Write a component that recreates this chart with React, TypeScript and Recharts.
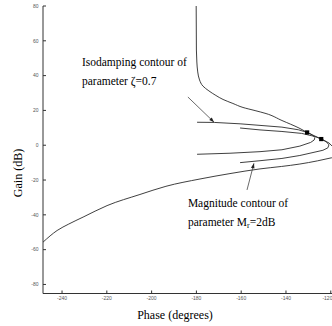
import React from 'react';
import { ComposedChart, Line, Scatter, XAxis, YAxis, ReferenceDot } from 'recharts';

// ---- data (phase in degrees, gain in dB) ----
const phaseTicks = [-240, -220, -200, -180, -160, -140, -120];
const gainTicks = [-80, -60, -40, -20, 0, 20, 40, 60, 80];

// upper branch of the open-loop Nichols curve (sorted by gain, ascending)
const upperPhase = [-120.8, -124.3, -130.6, -134.2, -141.8, -148.9, -153.8, -159.2, -163.7, -168.1, -171.3, -174.4, -177.1, -178.6, -179.4, -179.8, -180.0, -180.1];
const upperGain = [1.3, 3.6, 7.4, 9.9, 14.2, 18.2, 19.9, 21.7, 24.0, 26.3, 28.6, 31.2, 34.0, 37.5, 42.1, 47.8, 54.7, 80];

// turn-around beyond the right edge (clipped)
const loopPhase = [-120.8, -118.6, -117.8, -118.4, -119.6];
const loopGain = [1.3, -1.5, -4, -6, -7.2];

// lower branch (sorted by phase, ascending)
const lowerPhase = [-248.5, -242.2, -237, -230.6, -219.9, -205.2, -193.6, -178.4, -165, -151.6, -142, -133.8, -126, -119.6];
const lowerGain = [-55.7, -49, -45.3, -41.3, -34.7, -28.3, -23.6, -19.4, -16.3, -13.6, -12.2, -10.8, -9, -7.2];

const isoPhase = [-179.7, -172, -160.5, -151.6, -141.8, -134.5, -130.6, -128.3, -127.1, -127.4, -129, -133.8, -141.8, -151.6, -165, -179.7];
const isoGain = [13.2, 13.1, 12.3, 11.4, 10.4, 8.9, 7.4, 6.0, 4.4, 3.0, 1.6, -0.5, -2.6, -3.7, -4.6, -5.2];

const magPhase = [-160.5, -151.6, -141.8, -133, -127, -124.3, -122, -120.8, -121.3, -123.5, -133.8, -141.8, -151.6, -160.5];
const magGain = [9.9, 8.8, 7.9, 6.8, 5.0, 3.6, 2.0, 0.2, -1.5, -2.9, -5.9, -7.6, -8.9, -10.0];

const markerPhase = [-130.6, -124.3];
const markerGain = [7.4, 3.6];

const isoArrowPhase = [-183.8, -172.1];
const isoArrowGain = [27.7, 13.2];
const magArrowPhase = [-157.4, -154.3];
const magArrowGain = [-25.7, -10.4];

const isoLabelLines = ['Isodamping contour of', 'parameter \u03B6=0.7'];
const isoLabelAt = { phase: -231.1, gain: 45.5 };
const magLabelLines = ['Magnitude contour of', 'parameter M'];
const magLabelAt = { phase: -183.8, gain: -35.3 };

const xDomain: [number, number] = [-248.5, -119.45];
const yDomain: [number, number] = [-85.2, 80];

const zip = (p: number[], g: number[]) => p.map((phase, i) => ({ phase, gain: g[i] }));

const upperData = zip(upperPhase, upperGain);
const loopData = zip(loopPhase, loopGain);
const lowerData = zip(lowerPhase, lowerGain);
const isoData = zip(isoPhase, isoGain);
const magData = zip(magPhase, magGain);
const markerData = zip(markerPhase, markerGain);
const isoArrow = zip(isoArrowPhase, isoArrowGain);
const magArrow = zip(magArrowPhase, magArrowGain);

const LINE = '#2a2a2a';
const AXIS = '#333';
const SERIF = 'Liberation Serif, Times New Roman, DejaVu Serif, serif';
const serifStyle = { fontFamily: SERIF };

const ArrowHead = (props: any) => {
  const { cx, cy, index, points } = props;
  if (index !== 1 || !points || points.length < 2) return <g key={`ah-${index}`} />;
  const p0 = points[0];
  const ang = Math.atan2(cy - p0.y, cx - p0.x);
  const L = 5;
  const W = 1.8;
  const bx = cx - L * Math.cos(ang);
  const by = cy - L * Math.sin(ang);
  const px = -Math.sin(ang) * W;
  const py = Math.cos(ang) * W;
  return (
    <polygon
      key={`ah-${index}`}
      points={`${cx},${cy} ${bx + px},${by + py} ${bx - px},${by - py}`}
      fill="#222"
    />
  );
};

const Square = (props: any) => {
  const { cx, cy } = props;
  return <rect x={cx - 2} y={cy - 2} width={4.2} height={4.2} fill="#000" />;
};

const tickStyle = { fontSize: 5, fill: '#555', fontFamily: 'Liberation Sans, Arial, sans-serif' };

export default function App() {
  return (
    <div style={{ position: 'absolute', left: 0, top: 0 }}>
      <ComposedChart width={332} height={326} margin={{ top: 6, right: 0, bottom: 12.5, left: 0 }}>
        <XAxis
          xAxisId={0}
          dataKey="phase"
          type="number"
          domain={xDomain}
          ticks={phaseTicks}
          allowDataOverflow
          orientation="bottom"
          height={20}
          stroke={AXIS}
          tickSize={-3}
          tickMargin={5.5}
          tick={tickStyle}
          label={(p: any) => (
            <text x={175} y={319} textAnchor="middle" fontSize={12} style={serifStyle} fill="#000">
              Phase (degrees)
            </text>
          )}
        />
        <XAxis
          xAxisId="top"
          dataKey="phase"
          type="number"
          domain={xDomain}
          ticks={phaseTicks}
          allowDataOverflow
          orientation="top"
          height={0}
          stroke={AXIS}
          tickSize={-3}
          tickFormatter={() => ''}
        />
        <YAxis
          dataKey="gain"
          type="number"
          domain={yDomain}
          ticks={gainTicks}
          allowDataOverflow
          width={43}
          stroke={AXIS}
          tickSize={-3}
          tickMargin={7.5}
          tick={tickStyle}
          label={(p: any) => (
            <text
              x={22}
              y={173}
              transform="rotate(-90 22 173)"
              textAnchor="middle"
              fontSize={12}
              style={serifStyle}
              fill="#000"
            >
              Gain (dB)
            </text>
          )}
        />
        <Line data={upperData} dataKey="gain" type="monotoneY" stroke={LINE} strokeWidth={0.9} dot={false} activeDot={false} isAnimationActive={false} />
        <Line data={loopData} dataKey="gain" type="linear" stroke={LINE} strokeWidth={0.9} dot={false} activeDot={false} isAnimationActive={false} />
        <Line data={lowerData} dataKey="gain" type="monotoneX" stroke={LINE} strokeWidth={0.9} dot={false} activeDot={false} isAnimationActive={false} />
        <Line data={isoData} dataKey="gain" type="linear" stroke={LINE} strokeWidth={0.9} dot={false} activeDot={false} isAnimationActive={false} />
        <Line data={magData} dataKey="gain" type="linear" stroke={LINE} strokeWidth={0.9} dot={false} activeDot={false} isAnimationActive={false} />
        <Line data={isoArrow} dataKey="gain" type="linear" stroke="#444" strokeWidth={0.8} dot={ArrowHead} activeDot={false} isAnimationActive={false} />
        <Line data={magArrow} dataKey="gain" type="linear" stroke="#444" strokeWidth={0.8} dot={ArrowHead} activeDot={false} isAnimationActive={false} />
        <Scatter data={markerData} dataKey="gain" shape={Square} isAnimationActive={false} />
        <ReferenceDot
          x={isoLabelAt.phase}
          y={isoLabelAt.gain}
          r={0}
          fill="none"
          stroke="none"
          label={(p: any) => (
            <text fontSize={11.5} style={serifStyle} fill="#000">
              <tspan x={p.viewBox.x} y={p.viewBox.y}>{isoLabelLines[0]}</tspan>
              <tspan x={p.viewBox.x} y={p.viewBox.y + 19}>{isoLabelLines[1]}</tspan>
            </text>
          )}
        />
        <ReferenceDot
          x={magLabelAt.phase}
          y={magLabelAt.gain}
          r={0}
          fill="none"
          stroke="none"
          label={(p: any) => (
            <text fontSize={11.5} style={serifStyle} fill="#000">
              <tspan x={p.viewBox.x} y={p.viewBox.y}>{magLabelLines[0]}</tspan>
              <tspan x={p.viewBox.x} y={p.viewBox.y + 19}>{magLabelLines[1]}</tspan>
              <tspan fontSize={8} dy={2}>r</tspan>
              <tspan dy={-2}>=2dB</tspan>
            </text>
          )}
        />
      </ComposedChart>
    </div>
  );
}
